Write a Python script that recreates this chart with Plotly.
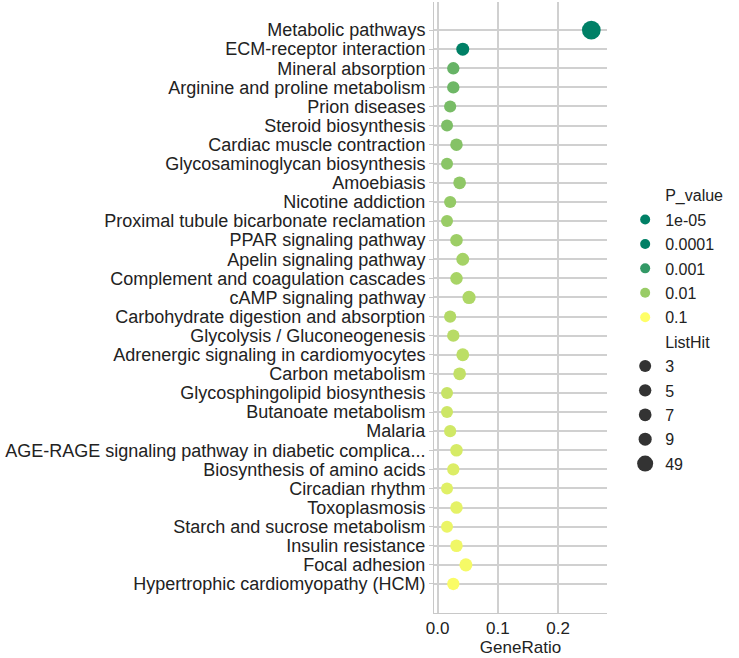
import numpy as np
import plotly.graph_objects as go
from plotly.colors import sample_colorscale

pathways = [
    "Metabolic pathways", "ECM-receptor interaction", "Mineral absorption",
    "Arginine and proline metabolism", "Prion diseases", "Steroid biosynthesis",
    "Cardiac muscle contraction", "Glycosaminoglycan biosynthesis", "Amoebiasis",
    "Nicotine addiction", "Proximal tubule bicarbonate reclamation",
    "PPAR signaling pathway", "Apelin signaling pathway",
    "Complement and coagulation cascades", "cAMP signaling pathway",
    "Carbohydrate digestion and absorption", "Glycolysis / Gluconeogenesis",
    "Adrenergic signaling in cardiomyocytes", "Carbon metabolism",
    "Glycosphingolipid biosynthesis", "Butanoate metabolism", "Malaria",
    "AGE-RAGE signaling pathway in diabetic complica...",
    "Biosynthesis of amino acids", "Circadian rhythm", "Toxoplasmosis",
    "Starch and sucrose metabolism", "Insulin resistance", "Focal adhesion",
    "Hypertrophic cardiomyopathy (HCM)",
]
list_hit = [49, 8, 5, 5, 4, 3, 6, 3, 7, 4, 3, 6, 8, 6, 10, 4, 5, 8, 7, 3,
            3, 4, 6, 5, 3, 6, 3, 6, 9, 5]
gene_ratio = [0.255, 0.0417, 0.026, 0.026, 0.0208, 0.0156, 0.0313, 0.0156,
              0.0365, 0.0208, 0.0156, 0.0313, 0.0417, 0.0313, 0.0521, 0.0208,
              0.026, 0.0417, 0.0365, 0.0156, 0.0156, 0.0208, 0.0313, 0.026,
              0.0156, 0.0313, 0.0156, 0.0313, 0.0469, 0.026]
p_value = [2e-6, 3e-5, 0.0032, 0.0038, 0.0047, 0.0053, 0.0063, 0.0071, 0.0079,
           0.0089, 0.010, 0.011, 0.013, 0.014, 0.016, 0.018, 0.020, 0.022,
           0.025, 0.028, 0.032, 0.035, 0.040, 0.045, 0.050, 0.056, 0.063,
           0.071, 0.079, 0.089]

p_legend = [1e-05, 0.0001, 0.001, 0.01, 0.1]
p_legend_labels = ["1e-05", "0.0001", "0.001", "0.01", "0.1"]
hit_legend = [3, 5, 7, 9, 49]
hit_legend_labels = ["3", "5", "7", "9", "49"]

summer = [[0.0, "rgb(0,128,102)"], [1.0, "rgb(255,255,102)"]]
CMIN, CMAX = -3.5, -1.0
FONT = "Liberation Sans, Arial, sans-serif"


def size_of(h):
    return np.sqrt(130.6 + 4.48 * np.asarray(h, dtype=float))


def color_of(p):
    t = (np.log10(p) - CMIN) / (CMAX - CMIN)
    t = float(np.clip(t, 0, 1))
    return sample_colorscale(summer, [t])[0]


fig = go.Figure()
fig.add_trace(go.Scatter(
    x=gene_ratio, y=pathways, mode="markers", showlegend=False,
    marker=dict(size=size_of(list_hit), color=np.log10(p_value),
                colorscale=summer, cmin=CMIN, cmax=CMAX,
                line=dict(width=0), opacity=1),
    hovertemplate="%{y}<br>GeneRatio=%{x}<extra></extra>",
))

g = 0
def legend_entry(name, color, size, opacity=1):
    global g
    fig.add_trace(go.Scatter(
        x=[None], y=[None], mode="markers", name=name, legendgroup=f"g{g}",
        marker=dict(size=size, color=color, opacity=opacity, line=dict(width=0)),
        showlegend=True,
    ))
    g += 1

legend_entry("P_value", "rgba(0,0,0,0)", 1, 0)
for p, lab in zip(p_legend, p_legend_labels):
    legend_entry(lab, color_of(p), 10)
legend_entry("ListHit", "rgba(0,0,0,0)", 1, 0)
for h, lab in zip(hit_legend, hit_legend_labels):
    legend_entry(lab, "#333333", float(size_of([h])[0]))

fig.update_layout(
    width=739, height=658,
    margin=dict(l=434, r=132, t=2, b=45),
    paper_bgcolor="white", plot_bgcolor="white",
    font=dict(family=FONT, size=18, color="#222222"),
    legend=dict(x=1.105, xanchor="left", y=0.7115, yanchor="top",
                traceorder="grouped", tracegroupgap=0.6,
                font=dict(size=16), bgcolor="rgba(0,0,0,0)",
                itemsizing="trace"),
    xaxis=dict(range=[-0.006, 0.281], tickvals=[0, 0.1, 0.2],
               ticktext=["0.0", "0.1", "0.2"], showgrid=True,
               gridcolor="#d0d0d0", gridwidth=1.5, zeroline=False,
               showline=True, linecolor="#c8c8c8", linewidth=1,
               ticks="", tickfont=dict(size=17), automargin=False,
               title=dict(text="GeneRatio", font=dict(size=17), standoff=2)),
    yaxis=dict(type="category", categoryorder="array", categoryarray=pathways,
               tickmode="array", tickvals=pathways, ticktext=pathways,
               range=[30.52, -1.47], showgrid=True, gridcolor="#d0d0d0",
               gridwidth=1.5, zeroline=False, showline=True, automargin=False,
               linecolor="#c8c8c8", linewidth=1, ticks="outside", ticklen=4,
               tickcolor="#c8c8c8", tickfont=dict(size=18)),
)

fig.write_html("out.html", config={"displayModeBar": False},
               post_script="document.body.style.margin='0';")
